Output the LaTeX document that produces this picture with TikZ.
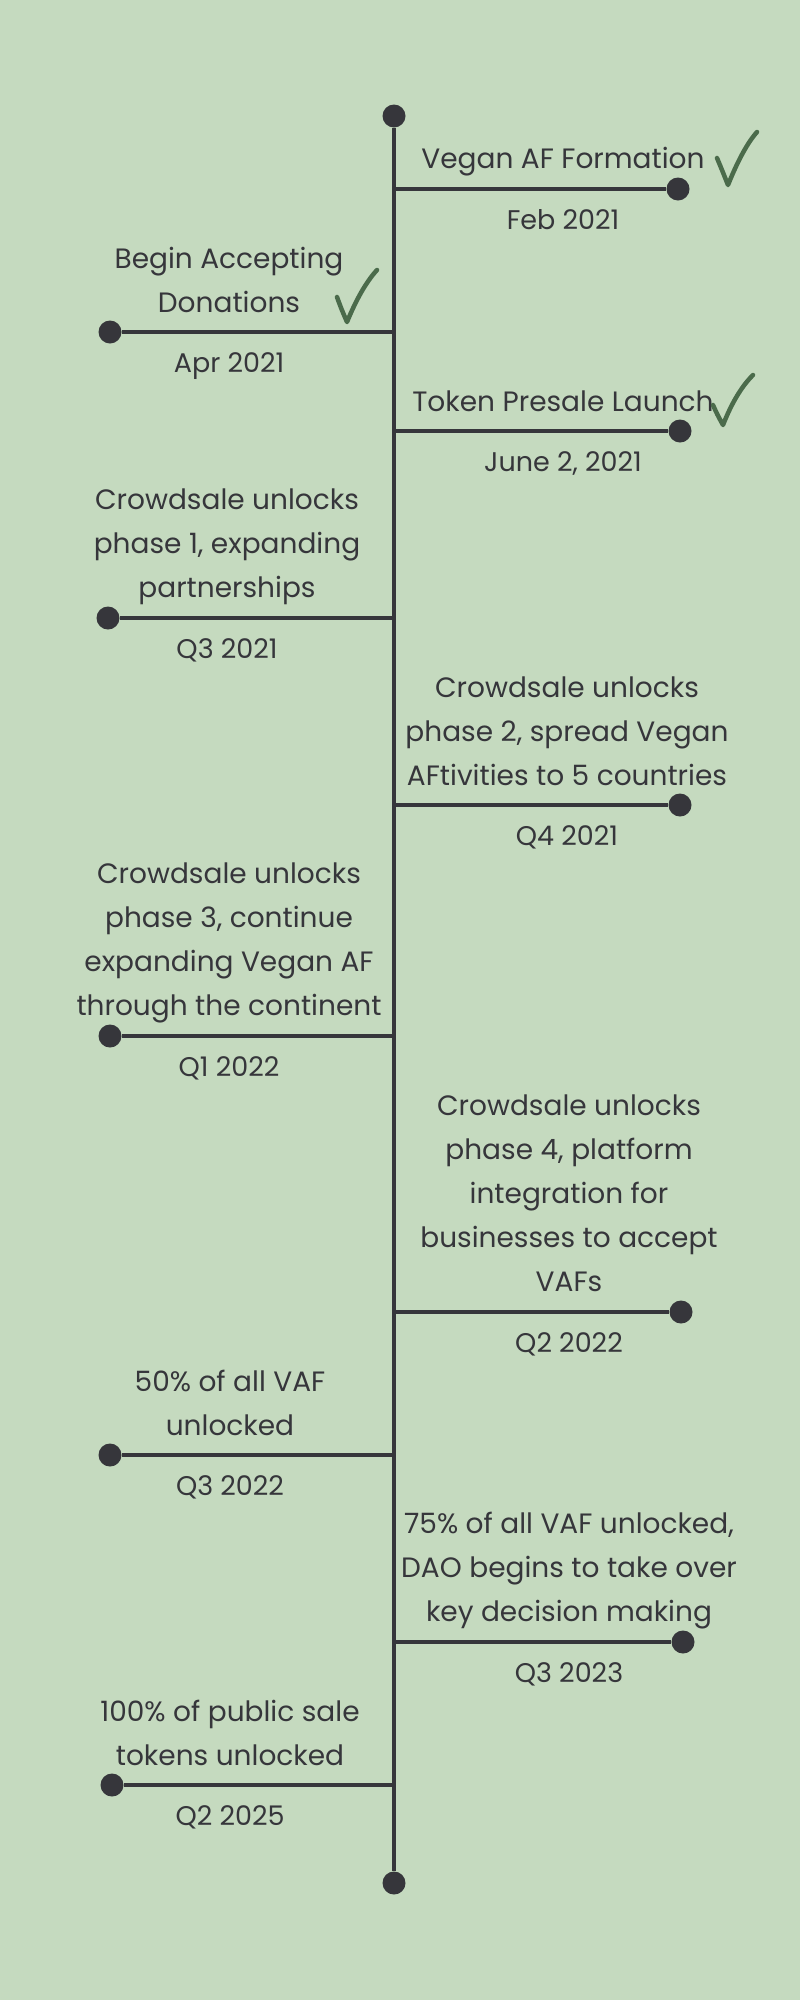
\documentclass[tikz,border=0pt]{standalone}
\usepackage{fontspec}
\setmainfont{Poppins}
\usetikzlibrary{positioning}
\definecolor{sage}{HTML}{C5DABF}
\definecolor{ink}{HTML}{36363B}
\definecolor{checkgreen}{HTML}{4B6B4B}
\tikzset{dot/.style={circle, fill=ink, minimum size=23pt, inner sep=0pt}}
\tikzset{stem/.style={draw=ink, line width=4.5pt}}
\tikzset{event/.style={align=center, text=ink, inner sep=0pt,
    font=\fontsize{28}{44}\selectfont}}
\tikzset{when/.style={text=ink, inner sep=0pt,
    font=\fontsize{27}{32}\selectfont}}
\tikzset{checkmark/.style={draw=checkgreen, line width=4.5pt,
    line cap=round, line join=round}}

\begin{document}
\begin{tikzpicture}[x=1pt, y=-1pt]
\useasboundingbox (0,0) rectangle (800,2000);
\fill[sage] (0,0) rectangle (800,2000);

% main axis
\node[dot] (top) at (394,116) {};
\node[dot] (bottom) at (394,1883) {};
\draw[stem] (top) -- (bottom);

% Feb 2021
\coordinate (a1) at (394,189);
\node[dot] (e1) at (678,189) {};
\draw[stem] (a1) -- (e1);
\coordinate (c1) at (563,189);
\node[event, above=13pt of c1] (t1) {Vegan AF Formation};
\node[when, below=20pt of c1] (d1) {Feb 2021};
\draw[checkmark] (717,158) .. controls (722,170) .. (728,185)
  .. controls (738,160) and (748,142) .. (757,132);

% Apr 2021
\coordinate (a2) at (394,332);
\node[dot] (e2) at (110,332) {};
\draw[stem] (a2) -- (e2);
\coordinate (c2) at (229,332);
\node[event, above=19pt of c2] (t2) {Begin Accepting\\Donations};
\node[when, below=20pt of c2] (d2) {Apr 2021};
\draw[checkmark] (337,297) .. controls (341,308) .. (347,322)
  .. controls (356,300) and (366,282) .. (377,270);

% June 2, 2021
\coordinate (a3) at (394,431);
\node[dot] (e3) at (680,431) {};
\draw[stem] (a3) -- (e3);
\coordinate (c3) at (563,431);
\node[event, above=19pt of c3] (t3) {Token Presale Launch};
\node[when, below=20pt of c3] (d3) {June 2, 2021};
\draw[checkmark] (713,405) .. controls (717,414) .. (723,425)
  .. controls (732,402) and (742,386) .. (753,375);

% Q3 2021
\coordinate (a4) at (394,618);
\node[dot] (e4) at (108,618) {};
\draw[stem] (a4) -- (e4);
\coordinate (c4) at (227,618);
\node[event, above=13pt of c4] (t4) {Crowdsale unlocks\\phase 1, expanding\\partnerships};
\node[when, below=20pt of c4] (d4) {Q3 2021};

% Q4 2021
\coordinate (a5) at (394,805);
\node[dot] (e5) at (680,805) {};
\draw[stem] (a5) -- (e5);
\coordinate (c5) at (567,805);
\node[event, above=19pt of c5] (t5) {Crowdsale unlocks\\phase 2, spread Vegan\\AFtivities to 5 countries};
\node[when, below=20pt of c5] (d5) {Q4 2021};

% Q1 2022
\coordinate (a6) at (394,1036);
\node[dot] (e6) at (110,1036) {};
\draw[stem] (a6) -- (e6);
\coordinate (c6) at (229,1036);
\node[event, above=13pt of c6] (t6) {Crowdsale unlocks\\phase 3, continue\\expanding Vegan AF\\through the continent};
\node[when, below=20pt of c6] (d6) {Q1 2022};

% Q2 2022
\coordinate (a7) at (394,1312);
\node[dot] (e7) at (681,1312) {};
\draw[stem] (a7) -- (e7);
\coordinate (c7) at (569,1312);
\node[event, above=20pt of c7] (t7) {Crowdsale unlocks\\phase 4, platform\\integration for\\businesses to accept\\VAFs};
\node[when, below=20pt of c7] (d7) {Q2 2022};

% Q3 2022
\coordinate (a8) at (394,1455);
\node[dot] (e8) at (110,1455) {};
\draw[stem] (a8) -- (e8);
\coordinate (c8) at (230,1455);
\node[event, above=19pt of c8] (t8) {50\% of all VAF\\unlocked};
\node[when, below=20pt of c8] (d8) {Q3 2022};

% Q3 2023
\coordinate (a9) at (394,1642);
\node[dot] (e9) at (683,1642) {};
\draw[stem] (a9) -- (e9);
\coordinate (c9) at (569,1642);
\node[event, above=13pt of c9] (t9) {75\% of all VAF unlocked,\\DAO begins to take over\\key decision making};
\node[when, below=20pt of c9] (d9) {Q3 2023};

% Q2 2025
\coordinate (a10) at (394,1785);
\node[dot] (e10) at (112,1785) {};
\draw[stem] (a10) -- (e10);
\coordinate (c10) at (230,1785);
\node[event, above=19pt of c10] (t10) {100\% of public sale\\tokens unlocked};
\node[when, below=20pt of c10] (d10) {Q2 2025};
\end{tikzpicture}
\end{document}
